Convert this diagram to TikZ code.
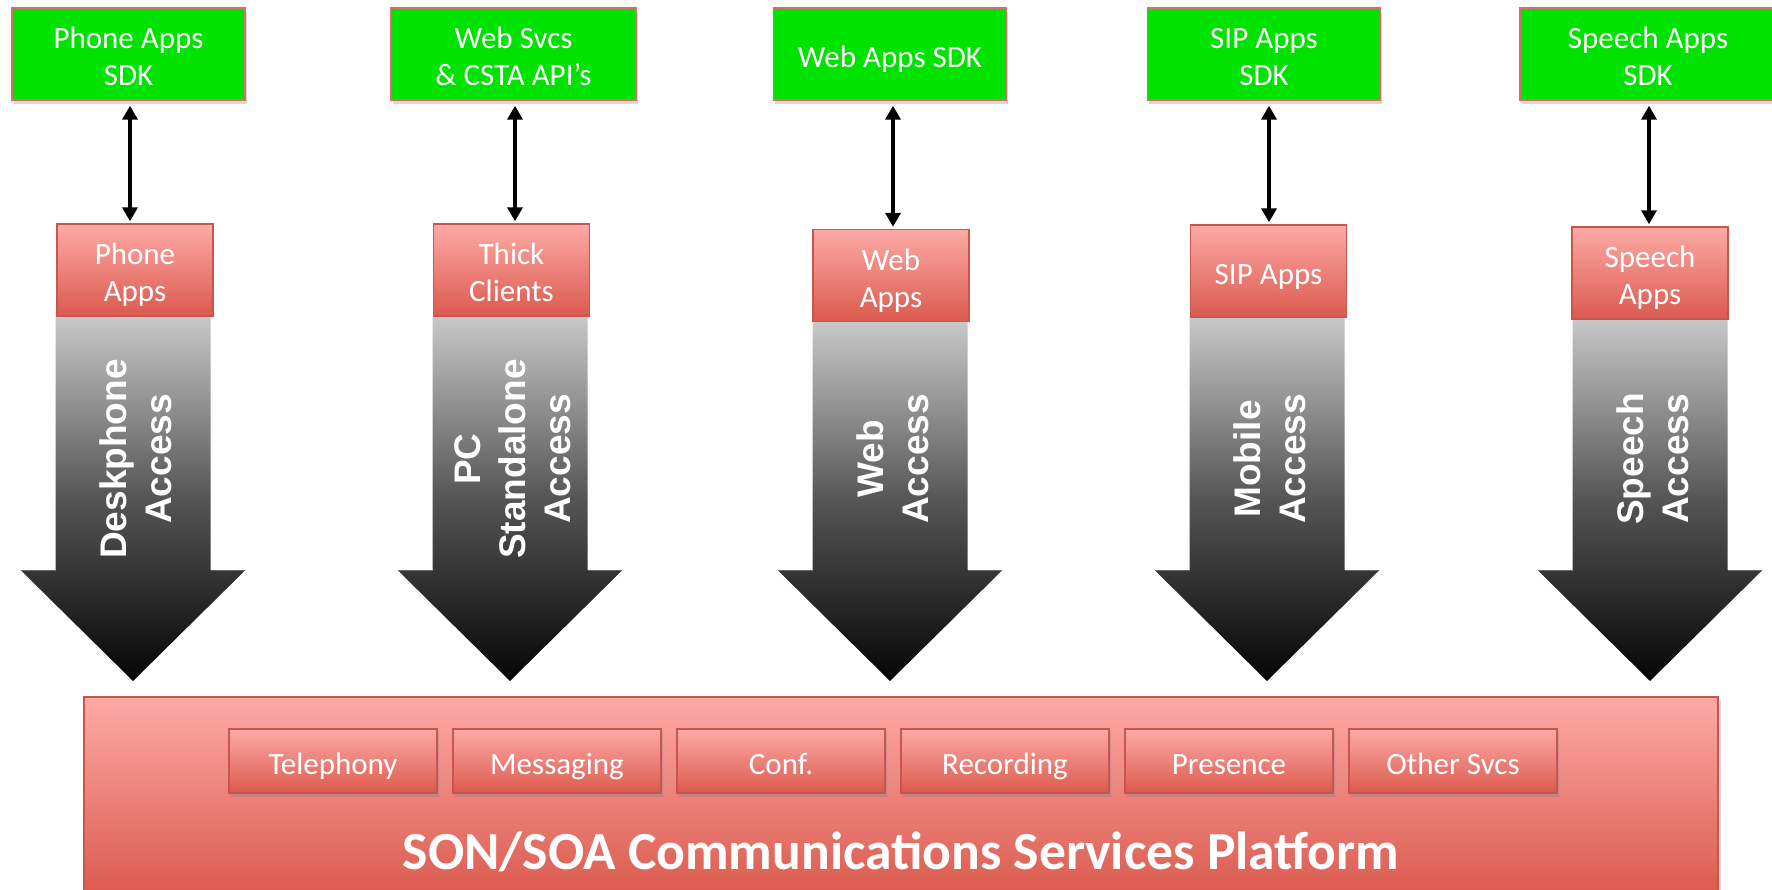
\documentclass[tikz,border=0pt]{standalone}
\usepackage{fontspec}
\setmainfont{Carlito}
\newfontfamily\arrowfont{Liberation Sans}
\usetikzlibrary{arrows.meta,shadows,calc}

\definecolor{sdkgreen}{RGB}{0,226,0}
\definecolor{sdkedge}{RGB}{214,110,110}
\definecolor{pinktop}{RGB}{253,170,166}
\definecolor{pinkbot}{RGB}{219,90,78}
\definecolor{pinkedge}{RGB}{200,86,78}
\definecolor{shafttop}{RGB}{200,200,200}
\definecolor{shaftmid}{RGB}{85,85,85}
\definecolor{shaftbot}{RGB}{5,5,5}

% box caption: lines stacked on struts, block set slightly below the box centre
\newcommand\boxtext[1]{\raisebox{-6.6pt}[0pt][0pt]{\begin{tabular}{@{}c@{}}#1\end{tabular}}}

\tikzset{
  boxshadow/.style={drop shadow={shadow xshift=0.8pt,shadow yshift=-2pt,opacity=0.3}},
  sdkbox/.style={rectangle, draw=sdkedge, line width=0.7pt, fill=sdkgreen,
    minimum width=116.5pt, minimum height=46pt, text=white,
    font=\fontsize{15.5}{18.5}\selectfont, inner sep=0pt, boxshadow},
  appbox/.style={rectangle, draw=pinkedge, line width=0.7pt,
    top color=pinktop, bottom color=pinkbot,
    minimum width=78pt, minimum height=46pt, text=white,
    font=\fontsize{15.5}{18.5}\selectfont, inner sep=0pt},
  svcbox/.style={rectangle, draw=pinkedge, line width=0.7pt,
    top color=pinktop, bottom color=pinkbot,
    minimum width=104pt, minimum height=32pt, text=white,
    font=\fontsize{15.5}{18.5}\selectfont, inner sep=0pt, boxshadow},
  platformbox/.style={rectangle, draw=pinkedge, line width=0.8pt,
    top color=pinktop, bottom color=pinkbot, minimum width=817pt,
    minimum height=99pt, inner sep=0pt,
    drop shadow={shadow xshift=1.5pt,shadow yshift=-1.5pt,opacity=0.3}},
  accesslabel/.style={rotate=90, text=white, align=center,
    font=\arrowfont\bfseries\fontsize{18.5}{22.5}\selectfont},
  linkarrow/.style={line width=2pt, {Triangle[width=7.5pt,length=7pt]}-{Triangle[width=7.5pt,length=7pt]}},
  accessarrow/.style={top color=shafttop, bottom color=shaftbot, middle color=shaftmid}
}

% big downward access arrow: centre x, shaft top y
\newcommand\accessarrow[2]{%
  \shade[accessarrow]
    (#1-77.5,#2) -- (#1+77.5,#2) -- (#1+77.5,570) -- (#1+112.5,570)
    -- (#1,681) -- (#1-112.5,570) -- (#1-77.5,570) -- cycle;
  \draw[white, opacity=0.25, line width=0.8pt]
    (#1-112.5,570) -- (#1-77.5,570) (#1+77.5,570) -- (#1+112.5,570);
}

\begin{document}
\begin{tikzpicture}[x=0.5pt,y=-0.5pt]
\useasboundingbox (0,0) rectangle (1772,889);

% SDK boxes on top
\node[sdkbox] (sdk1) at (128.5,54) {\boxtext{Phone Apps\\SDK}};
\node[sdkbox, minimum width=122.5pt] (sdk2) at (513.5,54) {\boxtext{Web Svcs\\\& CSTA API’s}};
\node[sdkbox] (sdk3) at (890,54) {\boxtext{Web Apps SDK}};
\node[sdkbox] (sdk4) at (1264,54) {\boxtext{SIP Apps\\SDK}};
\node[sdkbox, minimum width=128pt] (sdk5) at (1648,54) {\boxtext{Speech Apps\\SDK}};

% access arrows
\accessarrow{133}{316}
\accessarrow{510}{316}
\accessarrow{890}{322}
\accessarrow{1267}{317}
\accessarrow{1650}{318}

% application boxes sitting on the arrows
\node[appbox] (app1) at (135,270) {\boxtext{Phone\\Apps}};
\node[appbox] (app2) at (511.5,270) {\boxtext{Thick\\Clients}};
\node[appbox] (app3) at (891,275.5) {\boxtext{Web\\Apps}};
\node[appbox] (app4) at (1268.5,271) {\boxtext{SIP Apps}};
\node[appbox] (app5) at (1650,273) {\boxtext{Speech\\Apps}};

% arrow labels
\node[accesslabel] (acc1) at (136,459) {Deskphone\\Access};
\node[accesslabel] (acc2) at (513,459) {PC\\Standalone\\Access};
\node[accesslabel] (acc3) at (893,459) {Web\\Access};
\node[accesslabel] (acc4) at (1270,459) {Mobile\\Access};
\node[accesslabel] (acc5) at (1653,459) {Speech\\Access};

% SDK <-> application links
\foreach \i/\x in {1/130,2/515,3/893,4/1269,5/1649}{
  \coordinate (top\i) at (\x,0);
  \draw[linkarrow] ([yshift=-2.5pt]top\i |- sdk\i.south) -- ([yshift=1pt]top\i |- app\i.north);
}

% services platform
\node[platformbox] (platform) at (901,796) {};
\node[svcbox] (svc1) at (333,761) {\boxtext{Telephony}};
\node[svcbox] (svc2) at (557,761) {\boxtext{Messaging}};
\node[svcbox] (svc3) at (781,761) {\boxtext{Conf.}};
\node[svcbox] (svc4) at (1005,761) {\boxtext{Recording}};
\node[svcbox] (svc5) at (1229,761) {\boxtext{Presence}};
\node[svcbox] (svc6) at (1453,761) {\boxtext{Other Svcs}};
\node[text=white, font=\bfseries\fontsize{26.8}{30}\selectfont] (title) at (901,852)
  {SON/SOA Communications Services Platform};
\end{tikzpicture}
\end{document}
